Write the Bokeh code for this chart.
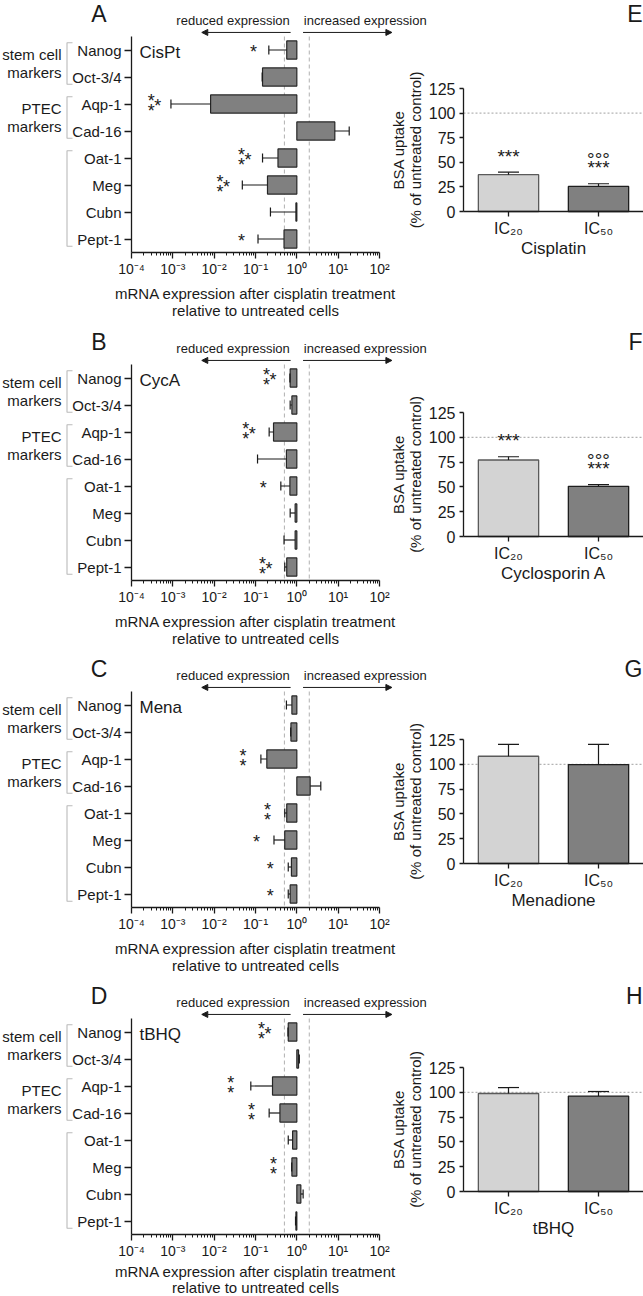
import math
from bokeh.plotting import figure
from bokeh.layouts import row, column
from bokeh.models import (ColumnDataSource, Range1d, FixedTicker, Label, Arrow, NormalHead,
                          Whisker, TeeHead, PolyAnnotation)
from bokeh.core.properties import value
from bokeh.embed import file_html
from bokeh.resources import INLINE

# ---------------- data ----------------
markers = ["Nanog", "Oct-3/4", "Aqp-1", "Cad-16", "Oat-1", "Meg", "Cubn", "Pept-1"]
group_labels = [["stem cell", "markers"], ["PTEC", "markers"], []]
group_first = ["Nanog", "Aqp-1", "Oat-1"]
group_last = ["Oct-3/4", "Cad-16", "Pept-1"]

x_tick_values = [1e-4, 1e-3, 1e-2, 1e-1, 1e0, 1e1, 1e2]
x_tick_labels = ["10⁻⁴", "10⁻³", "10⁻²", "10⁻¹", "10⁰", "10¹", "10²"]
fold_thresholds = [0.5, 2.0]

# fold change of mRNA vs untreated cells, and the outer end of each error bar
cispt_expr = [0.57, 0.148, 0.0082, 8.3, 0.35, 0.195, 0.95, 0.49]
cispt_err = [0.21, 0.145, 0.0009, 18.5, 0.148, 0.048, 0.23, 0.115]
cyca_expr = [0.69, 0.76, 0.273, 0.56, 0.68, 0.91, 0.91, 0.57]
cyca_err = [0.68, 0.69, 0.214, 0.112, 0.41, 0.69, 0.49, 0.51]
mena_expr = [0.76, 0.72, 0.188, 2.1, 0.57, 0.51, 0.74, 0.69]
mena_err = [0.56, 0.71, 0.135, 3.8, 0.51, 0.28, 0.62, 0.62]
tbhq_expr = [0.62, 1.1, 0.258, 0.39, 0.79, 0.76, 1.25, 0.95]
tbhq_err = [0.61, 1.15, 0.077, 0.214, 0.62, 0.75, 1.42, 0.93]

# significance asterisks: marker, x position, number of asterisks
cispt_sig_marker = ["Nanog", "Aqp-1", "Oat-1", "Meg", "Pept-1"]
cispt_sig_x = [0.089, 0.0003, 0.046, 0.0139, 0.046]
cispt_sig_n = [1, 3, 3, 3, 1]
cyca_sig_marker = ["Nanog", "Aqp-1", "Oat-1", "Pept-1"]
cyca_sig_x = [0.185, 0.058, 0.153, 0.148]
cyca_sig_n = [3, 3, 1, 3]
mena_sig_marker = ["Aqp-1", "Oat-1", "Meg", "Cubn", "Pept-1"]
mena_sig_x = [0.050, 0.195, 0.106, 0.226, 0.226]
mena_sig_n = [2, 2, 1, 1, 1]
tbhq_sig_marker = ["Nanog", "Aqp-1", "Cad-16", "Meg"]
tbhq_sig_x = [0.14, 0.0253, 0.080, 0.273]
tbhq_sig_n = [3, 2, 2, 2]

drug_short = ["CisPt", "CycA", "Mena", "tBHQ"]
left_letters = ["A", "B", "C", "D"]

# BSA uptake, % of untreated control
doses = ["IC₂₀", "IC₅₀"]
uptake_ticks = [0, 25, 50, 75, 100, 125]
control_level = 100
cis_uptake = [37.4, 25.5]
cis_uptake_err = [40.0, 28.2]
cis_stars = ["***", "***"]
cis_circles = ["", "°°°"]
csa_uptake = [77.1, 50.6]
csa_uptake_err = [80.4, 52.3]
csa_stars = ["***", "***"]
csa_circles = ["", "°°°"]
men_uptake = [108.1, 99.7]
men_uptake_err = [120.0, 120.0]
men_stars = ["", ""]
men_circles = ["", ""]
tb_uptake = [98.8, 96.2]
tb_uptake_err = [104.8, 100.8]
tb_stars = ["", ""]
tb_circles = ["", ""]

drug_names = ["Cisplatin", "Cyclosporin A", "Menadione", "tBHQ"]
right_letters = ["E", "F", "G", "H"]

# ---------------- styling / geometry ----------------
FONT = "Liberation Sans"
INK = "#1a1a1a"
ROW_H = [328, 327, 327, 314]

# left panels: canvas width, plot-area left/width/top/height (pixels)
L_W, L_LEFT, L_FW, L_TOP, L_FH = 430, 131, 248, 36, 216
L_TITLE_GAP = [(41, 58), (41, 58), (41, 58), (37, 53)]
# right panels: canvas width, plot-area left, overlap with the left canvas
R_W, R_LEFT, R_OVERLAP = 253, 73, 40
R_TOP = [88, 84, 84, 85]
R_FH = [123, 124, 124, 124]

STAR_SHIFT = 2     # asterisk glyphs sit high in the em box
CIRCLE_RISE = 24
STAR_RISE = 18
STAR_LAYOUT = {1: [(0, 0)], 2: [(0, -5), (0, 5)], 3: [(0, -5), (0, 5), (6.5, 0)]}


def style_axis(ax, size):
    ax.axis_line_color = INK
    ax.axis_line_width = 1.3
    ax.major_tick_line_color = INK
    ax.major_tick_line_width = 1.3
    ax.minor_tick_line_color = INK
    ax.minor_tick_line_width = 1.0
    ax.major_tick_in = 0
    ax.minor_tick_in = 0
    ax.major_label_text_font = FONT
    ax.major_label_text_font_size = size
    ax.major_label_text_color = INK


def txt(**kw):
    base = dict(text_font=FONT, text_color=INK, text_baseline="middle")
    base.update(kw)
    return Label(**base)


def bare_figure(width, height, x_range, y_range, **kw):
    p = figure(width=width, height=height, x_range=x_range, y_range=y_range,
               output_backend="svg", toolbar_location=None,
               min_border=0, min_border_left=0, min_border_right=0,
               min_border_top=0, min_border_bottom=0, **kw)
    p.background_fill_color = None
    p.border_fill_color = None
    p.outline_line_color = None
    p.grid.visible = False
    return p


def expression_panel(k, expr, err, sig_marker, sig_x, sig_n, height):
    n = len(markers)
    lo, hi = math.log10(x_tick_values[0]), math.log10(x_tick_values[-1])
    dec_px = L_FW / (hi - lo)
    cat_px = L_FH / n
    x_range = Range1d(10 ** (lo - L_LEFT / dec_px), 10 ** (hi + (L_W - L_LEFT - L_FW) / dec_px))
    y_range = Range1d(n - 0.5 + (height - L_TOP - L_FH) / cat_px, -0.5 - L_TOP / cat_px)
    p = bare_figure(L_W, height, x_range, y_range, x_axis_type="log")

    # x axis (log), drawn along the bottom of the plot area
    xa = p.xaxis[0]
    style_axis(xa, "14px")
    xa.fixed_location = n - 0.5
    xa.bounds = (x_tick_values[0], x_tick_values[-1])
    xa.ticker = FixedTicker(ticks=x_tick_values,
                            minor_ticks=[m * t for t in x_tick_values[:-1] for m in range(2, 10)])
    xa.major_label_overrides = dict(zip(x_tick_values, x_tick_labels))
    xa.major_tick_out = 6
    xa.minor_tick_out = 3
    xa.major_label_standoff = 2

    # y axis (markers)
    ya = p.yaxis[0]
    style_axis(ya, "15px")
    ya.fixed_location = x_tick_values[0]
    ya.bounds = (-0.5, n - 0.5)
    ya.ticker = FixedTicker(ticks=list(range(n)))
    ya.major_label_overrides = {i: m for i, m in enumerate(markers)}
    ya.major_tick_out = 7
    ya.major_label_standoff = 3

    # 0.5- and 2-fold threshold lines
    p.segment(x0=fold_thresholds, x1=fold_thresholds, y0=-0.5, y1=n - 0.5,
              line_color="#b0b0b0", line_dash="4 3", line_width=1, level="underlay")

    y = list(range(n))
    src = ColumnDataSource(dict(y=y, expr=expr, err=err))
    p.add_layout(Whisker(source=src, base="y", lower="err", upper="expr", dimension="width",
                         line_color=INK, line_width=1.2,
                         lower_head=TeeHead(size=9, line_color=INK, line_width=1.2),
                         upper_head=None, level="glyph"))
    p.hbar(y="y", left=1, right="expr", height=0.67, source=src,
           fill_color="#808080", line_color="#262626", line_width=1.2)

    # significance asterisks
    sx, sy, ox, oy = [], [], [], []
    for m, xv, cnt in zip(sig_marker, sig_x, sig_n):
        for dx, dy in STAR_LAYOUT[cnt]:
            sx.append(xv)
            sy.append(markers.index(m))
            ox.append(dx)
            oy.append(dy + STAR_SHIFT)
    p.text(x=sx, y=sy, text=["*"] * len(sx), x_offset=ox, y_offset=oy,
           text_font=value(FONT), text_font_size="18px", text_color=INK,
           text_align="center", text_baseline="middle")

    # direction arrows above the plot area
    arrow_y = -0.5 - 0.15
    for sign in (-1, 1):
        p.add_layout(Arrow(x_start=10 ** (0.15 * sign), x_end=10 ** (2.3 * sign),
                           y_start=arrow_y, y_end=arrow_y, line_color=INK, line_width=1,
                           start=None,
                           end=NormalHead(size=6, fill_color=INK, line_color=INK)))
    p.add_layout(txt(x=10 ** -0.17, y=-0.5 - 0.58, text="reduced expression",
                     text_align="right", text_font_size="13px"))
    p.add_layout(txt(x=10 ** 0.17, y=-0.5 - 0.58, text="increased expression",
                     text_align="left", text_font_size="13px"))

    # marker groups: bracket + label
    for names, first, last in zip(group_labels, group_first, group_last):
        i0, i1 = markers.index(first), markers.index(last)
        top, bot = i0 - 0.27, i1 + 0.27
        xs = [72, 66.5, 66.5, 72, 66.5, 66.5]
        ys = [top, top, bot, bot, bot, top]
        p.add_layout(PolyAnnotation(xs=xs, ys=ys, xs_units="screen", ys_units="data",
                                    fill_color=None, fill_alpha=0, line_color=INK,
                                    line_width=1.1))
        mid = (i0 + i1) / 2
        for j, name in enumerate(names):
            p.add_layout(txt(x=61, y=mid + (0.68 * j - 0.34), x_units="screen", text=name,
                             text_align="right", text_font_size="15px"))

    # panel letter, treatment name and axis title
    p.add_layout(txt(x=98.5, y=height, x_units="screen", y_units="screen",
                     text=left_letters[k], text_align="center", text_baseline="top",
                     text_font_size="23px"))
    p.add_layout(txt(x=L_LEFT + 8, y=0.09, x_units="screen",
                     text=drug_short[k], text_align="left", text_font_size="17px"))
    bottom = height - L_TOP - L_FH
    g1, g2 = L_TITLE_GAP[k]
    p.add_layout(txt(x=L_LEFT + L_FW / 2, y=bottom - g1, x_units="screen", y_units="screen",
                     text="mRNA expression after cisplatin treatment", text_align="center",
                     text_font_size="15px"))
    p.add_layout(txt(x=L_LEFT + L_FW / 2, y=bottom - g2, x_units="screen", y_units="screen",
                     text="relative to untreated cells", text_align="center",
                     text_font_size="15px"))
    return p


def uptake_panel(k, vals, errs, stars, circles, height):
    top, fh = R_TOP[k], R_FH[k]
    nd = len(doses)
    y_lo, y_hi = uptake_ticks[0], uptake_ticks[-1]
    unit_px = (R_W - R_LEFT) / nd
    y_px = fh / (y_hi - y_lo)
    x_range = Range1d(-R_LEFT / unit_px, nd)
    y_range = Range1d(y_lo - (height - top - fh) / y_px, y_hi + top / y_px)
    p = bare_figure(R_W, height, x_range, y_range, margin=(0, 0, 0, -R_OVERLAP))

    xpos = [i + 0.5 for i in range(nd)]

    ya = p.yaxis[0]
    style_axis(ya, "16px")
    ya.fixed_location = 0
    ya.bounds = (y_lo, y_hi)
    ya.ticker = FixedTicker(ticks=uptake_ticks)
    ya.major_tick_out = 4
    ya.major_label_standoff = 4

    xa = p.xaxis[0]
    style_axis(xa, "16px")
    xa.fixed_location = y_lo
    xa.bounds = (0, nd)
    xa.ticker = FixedTicker(ticks=xpos)
    xa.major_label_overrides = dict(zip(xpos, doses))
    xa.major_tick_out = 5
    xa.major_label_standoff = 3

    p.segment(x0=0, x1=nd, y0=control_level, y1=control_level, line_color="#a0a0a0",
              line_dash="2 2", line_width=1, level="underlay")

    src = ColumnDataSource(dict(x=xpos, val=vals, err=errs, stars=stars, circles=circles,
                                fill=["#d3d3d3", "#808080"], line=["#5a5a5a", "#1f1f1f"]))
    p.add_layout(Whisker(source=src, base="x", lower="val", upper="err", dimension="height",
                         line_color=INK, line_width=1.2,
                         upper_head=TeeHead(size=21, line_color=INK, line_width=1.2),
                         lower_head=None, level="glyph"))
    p.vbar(x="x", top="val", width=0.67, bottom=0, source=src,
           fill_color="fill", line_color="line", line_width=1.3)
    p.text(x="x", y="err", text="stars", source=src, y_offset=-STAR_RISE + STAR_SHIFT,
           text_font=value(FONT), text_font_size="19px", text_color=INK,
           text_align="center", text_baseline="middle")
    p.text(x="x", y="err", text="circles", source=src, y_offset=-CIRCLE_RISE,
           text_font=value(FONT), text_font_size="19px", text_color=INK,
           text_align="center", text_baseline="middle")

    mid_y = (y_lo + y_hi) / 2
    p.add_layout(txt(x=7.5, y=mid_y, x_units="screen", text="BSA uptake", angle=math.pi / 2,
                     text_align="center", text_font_size="15px"))
    p.add_layout(txt(x=25, y=mid_y, x_units="screen", text="(% of untreated control)",
                     angle=math.pi / 2, text_align="center", text_font_size="15px"))
    p.add_layout(txt(x=R_LEFT + (R_W - R_LEFT) / 2, y=height - top - fh - 37,
                     x_units="screen", y_units="screen", text=drug_names[k],
                     text_align="center", text_font_size="17px"))
    p.add_layout(txt(x=R_W - 1, y=height, x_units="screen", y_units="screen",
                     text=right_letters[k], text_align="right", text_baseline="top",
                     text_font_size="23px"))
    return p


left_data = [
    (cispt_expr, cispt_err, cispt_sig_marker, cispt_sig_x, cispt_sig_n),
    (cyca_expr, cyca_err, cyca_sig_marker, cyca_sig_x, cyca_sig_n),
    (mena_expr, mena_err, mena_sig_marker, mena_sig_x, mena_sig_n),
    (tbhq_expr, tbhq_err, tbhq_sig_marker, tbhq_sig_x, tbhq_sig_n),
]
right_data = [
    (cis_uptake, cis_uptake_err, cis_stars, cis_circles),
    (csa_uptake, csa_uptake_err, csa_stars, csa_circles),
    (men_uptake, men_uptake_err, men_stars, men_circles),
    (tb_uptake, tb_uptake_err, tb_stars, tb_circles),
]

rows = []
for k in range(4):
    left = expression_panel(k, *left_data[k], ROW_H[k])
    right = uptake_panel(k, *right_data[k], ROW_H[k])
    rows.append(row(left, right))

page = column(*rows)
open("out.html", "w").write(file_html(page, INLINE))
